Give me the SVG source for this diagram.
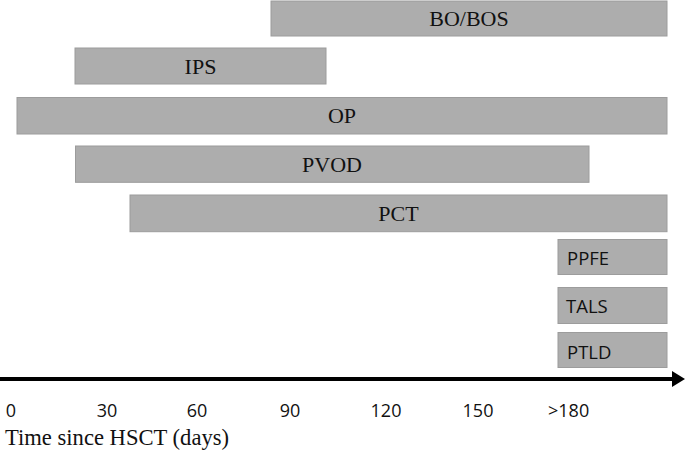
<svg xmlns="http://www.w3.org/2000/svg" width="685" height="450" viewBox="0 0 685 450">
<style>
.bar{fill:#adadad;stroke:#9c9c9c;stroke-width:1}
.ser{font-family:"Liberation Serif","Times New Roman",serif;font-size:22px;fill:#111;text-anchor:middle}
.sans{font-family:"Open Sans","Liberation Sans",sans-serif;font-size:18px;fill:#111}
.tick{text-anchor:middle}
</style>
<rect width="685" height="450" fill="#fff"/>
<g id="bobos"><rect class="bar" x="271" y="1" width="396" height="35"/><text class="ser" x="469" y="26">BO/BOS</text></g>
<g id="ips"><rect class="bar" x="75" y="48" width="251" height="36"/><text class="ser" x="200.5" y="73.5">IPS</text></g>
<g id="op"><rect class="bar" x="17" y="97.5" width="650" height="36.5"/><text class="ser" x="342" y="123">OP</text></g>
<g id="pvod"><rect class="bar" x="75.5" y="146" width="513.5" height="36.3"/><text class="ser" x="332" y="171.5">PVOD</text></g>
<g id="pct"><rect class="bar" x="130" y="195" width="537" height="36.7"/><text class="ser" x="398.5" y="220.8">PCT</text></g>
<g id="ppfe"><rect class="bar" x="558" y="239.5" width="109" height="35"/><text class="sans" x="567" y="265" style="font-size:18.5px">PPFE</text></g>
<g id="tals"><rect class="bar" x="558" y="287.5" width="109" height="36"/><text class="sans" x="566" y="313" style="font-size:18.5px">TALS</text></g>
<g id="ptld"><rect class="bar" x="558" y="332.5" width="109" height="35"/><text class="sans" x="567" y="358.5" style="font-size:18.5px">PTLD</text></g>
<g id="connectors">
<line x1="0" y1="379" x2="674" y2="379" stroke="#000" stroke-width="4"/>
<polygon points="672,371 685,379 672,387" fill="#000"/>
</g>
<g id="axis-labels">
<text class="sans tick" x="11" y="417">0</text>
<text class="sans tick" x="107" y="417">30</text>
<text class="sans tick" x="197" y="417">60</text>
<text class="sans tick" x="290" y="417">90</text>
<text class="sans tick" x="386" y="417">120</text>
<text class="sans tick" x="478" y="417">150</text>
<text class="sans" x="548" y="417">&gt;180</text>
<text class="ser" x="5" y="445" style="text-anchor:start;font-size:22.6px">Time since HSCT (days)</text>
</g>
</svg>
